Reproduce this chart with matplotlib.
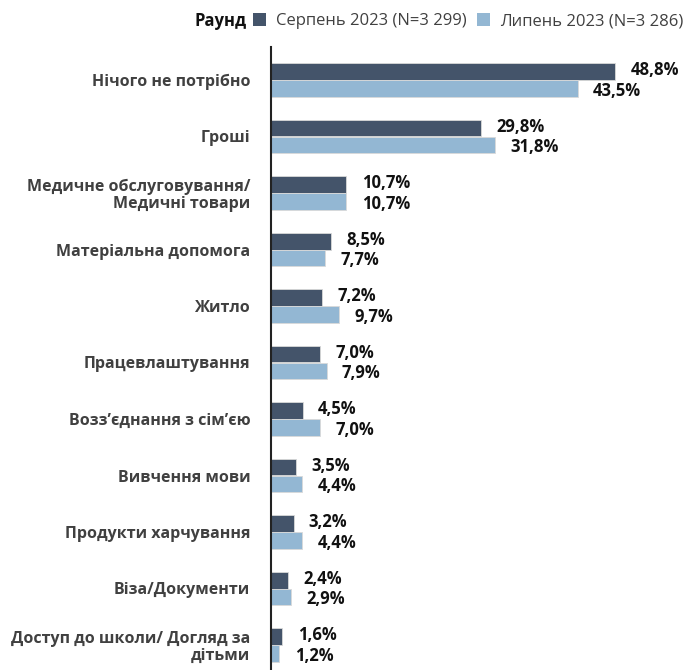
import numpy as np
import matplotlib
matplotlib.use("Agg")
import matplotlib.pyplot as plt
from matplotlib.patches import Patch

plt.rcParams['font.family'] = ['Open Sans', 'DejaVu Sans']

categories = [
    "Нічого не потрібно",
    "Гроші",
    "Медичне обслуговування/\nМедичні товари",
    "Матеріальна допомога",
    "Житло",
    "Працевлаштування",
    "Возз’єднання з сім’єю",
    "Вивчення мови",
    "Продукти харчування",
    "Віза/Документи",
    "Доступ до школи/ Догляд за\nдітьми",
]
aug_2023 = [48.8, 29.8, 10.7, 8.5, 7.2, 7.0, 4.5, 3.5, 3.2, 2.4, 1.6]
jul_2023 = [43.5, 31.8, 10.7, 7.7, 9.7, 7.9, 7.0, 4.4, 4.4, 2.9, 1.2]
series_names = ["Серпень 2023 (N=3 299)", "Липень 2023 (N=3 286)"]
legend_title = "Раунд"

dark = "#44546A"
light = "#93B7D3"

W, H = 686, 670
fig = plt.figure(figsize=(W / 100, H / 100), dpi=100)

# axes in pixel coords: left 271, top 47, to right/bottom edge
ax_left, ax_top = 271, 47
ax = fig.add_axes([ax_left / W, 0, (W - ax_left) / W, (H - ax_top) / H])

px_per_pct = 7.05
ax.set_xlim(0, (W - ax_left) / px_per_pct)

# group centres at 80 + 56.5*i px
first_c, step = 80, 56.5
ax.set_ylim((H - first_c) / step, (ax_top - first_c) / step)

y = np.arange(len(categories))
bh = 0.30
ax.barh(y - bh / 2, aug_2023, height=bh, color=dark, edgecolor="#D9D9D9", linewidth=0.6)
ax.barh(y + bh / 2, jul_2023, height=bh, color=light, edgecolor="#D9D9D9", linewidth=0.6)

# value labels, nudged slightly apart like the original
for yi, v in zip(y, aug_2023):
    ax.annotate(f"{v:.1f}%".replace(".", ","), (v, yi - bh / 2), xytext=(11, 0.8),
                textcoords="offset points", ha="left", va="center",
                fontsize=12, fontweight="bold", color="#111111")
for yi, v in zip(y, jul_2023):
    ax.annotate(f"{v:.1f}%".replace(".", ","), (v, yi + bh / 2), xytext=(11, -1.5),
                textcoords="offset points", ha="left", va="center",
                fontsize=12, fontweight="bold", color="#111111")

ax.set_yticks(y)
ax.set_yticklabels(categories, fontsize=11.5, fontweight="bold", color="#404040",
                   linespacing=1.05)
ax.tick_params(axis="y", length=0, pad=15)
ax.set_xticks([])
for s in ["top", "right", "bottom"]:
    ax.spines[s].set_visible(False)
ax.spines["left"].set_color("#222222")
ax.spines["left"].set_linewidth(1.5)

# legend at the top
fig.text(195 / W, 1 - 21 / H, legend_title, fontsize=12, fontweight="bold",
         color="#111111", ha="left", va="center")
handles = [Patch(facecolor=dark, label=series_names[0]),
           Patch(facecolor=light, label=series_names[1])]
fig.legend(handles=handles, loc="center left", bbox_to_anchor=(253 / W, 1 - 21 / H),
           ncol=2, frameon=False, fontsize=12, handlelength=0.8, handleheight=0.8,
           handletextpad=0.6, columnspacing=0.6, borderaxespad=0, borderpad=0,
           labelcolor="#404040")

fig.savefig("out.png", dpi=100)
